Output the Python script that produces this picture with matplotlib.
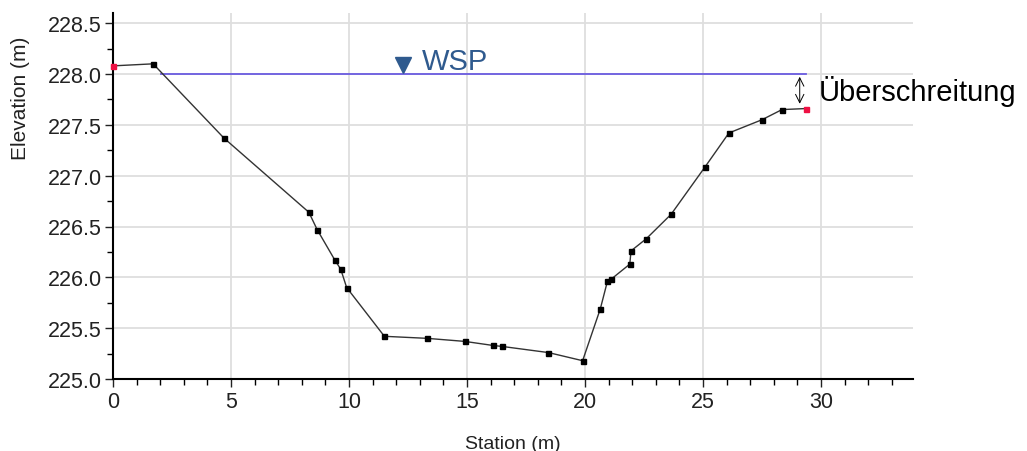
import matplotlib
matplotlib.use("Agg")
import matplotlib.pyplot as plt
from matplotlib.ticker import MultipleLocator, FormatStrFormatter

plt.rcParams['font.family'] = ['Liberation Sans', 'DejaVu Sans']

station = [0.0, 1.7, 4.7, 8.3, 8.65, 9.4, 9.65, 9.9, 11.5, 13.3, 14.9, 16.1, 16.5,
           18.45, 19.9, 20.65, 20.95, 21.1, 21.9, 21.95, 22.6, 23.65, 25.1, 26.1,
           27.5, 28.35, 29.35]
elevation = [228.08, 228.10, 227.37, 226.64, 226.47, 226.17, 226.08, 225.90, 225.42,
             225.40, 225.37, 225.33, 225.32, 225.26, 225.18, 225.69, 225.96, 225.98,
             226.13, 226.26, 226.38, 226.62, 227.09, 227.42, 227.55, 227.65, 227.66]
wsp_level = 228.0
wsp_start = 2.05
wsp_end = 29.35
xticks = [0, 5, 10, 15, 20, 25, 30]
yticks = [225.0, 225.5, 226.0, 226.5, 227.0, 227.5, 228.0, 228.5]

fig = plt.figure(figsize=(10.27, 4.52), dpi=100)
ax = fig.add_axes([113/1027, 72/452, 800/1027, 366/452])

ax.set_xlim(0, 33.9)
ax.set_ylim(225.0, 228.6)
ax.set_xticks(xticks)
ax.set_yticks(yticks)
ax.yaxis.set_major_formatter(FormatStrFormatter('%.1f'))
ax.xaxis.set_minor_locator(MultipleLocator(1))
ax.yaxis.set_minor_locator(MultipleLocator(0.25))
ax.grid(True, which='major', color='#dedede', linewidth=1.3)
ax.set_axisbelow(True)
for s in ['top', 'right']:
    ax.spines[s].set_visible(False)
ax.spines['left'].set_linewidth(1.5)
ax.spines['bottom'].set_linewidth(1.5)
ax.tick_params(which='major', length=6, width=1, labelsize=15.5, colors='#222222')
ax.tick_params(which='minor', length=4, width=1)
ax.tick_params(axis='x', which='major', pad=3)
ax.tick_params(axis='y', which='major', pad=2)

# water surface
ax.plot([wsp_start, wsp_end], [wsp_level, wsp_level], color='#6a5be0', linewidth=1.3, zorder=2)

# ground profile
ax.plot(station, elevation, color='#333333', linewidth=1.0, zorder=3)
ax.plot(station[1:-1], elevation[1:-1], 's', color='black', markersize=3.6, zorder=4)
ax.plot([station[0], station[-1]], [elevation[0], elevation[-1]], 's', color='#ee1144',
        markersize=3.6, zorder=5, clip_on=False)

# WSP symbol
ax.plot([12.3], [wsp_level + 0.09], marker='v', color='#2f5a8e', markersize=12,
        linestyle='none', zorder=5)
ax.text(13.1, wsp_level + 0.13, 'WSP', color='#2f5a8e', fontsize=21, va='center', ha='left')

# exceedance arrow
ax.annotate('', xy=(29.1, wsp_level), xytext=(29.1, elevation[-1] + 0.02),
            arrowprops=dict(arrowstyle='<->,head_length=0.6,head_width=0.3',
                            color='black', lw=0.7))
ax.text(29.9, 227.84, 'Überschreitung', fontsize=21, va='center', ha='left',
        clip_on=False, color='black')

ax.set_xlabel('Station (m)', fontsize=14, color='#222222', labelpad=16)
ax.set_ylabel('Elevation (m)', fontsize=15, color='#222222', labelpad=6)
ax.yaxis.set_label_coords(-0.104, 0.77)

fig.savefig('out.png', dpi=100)
